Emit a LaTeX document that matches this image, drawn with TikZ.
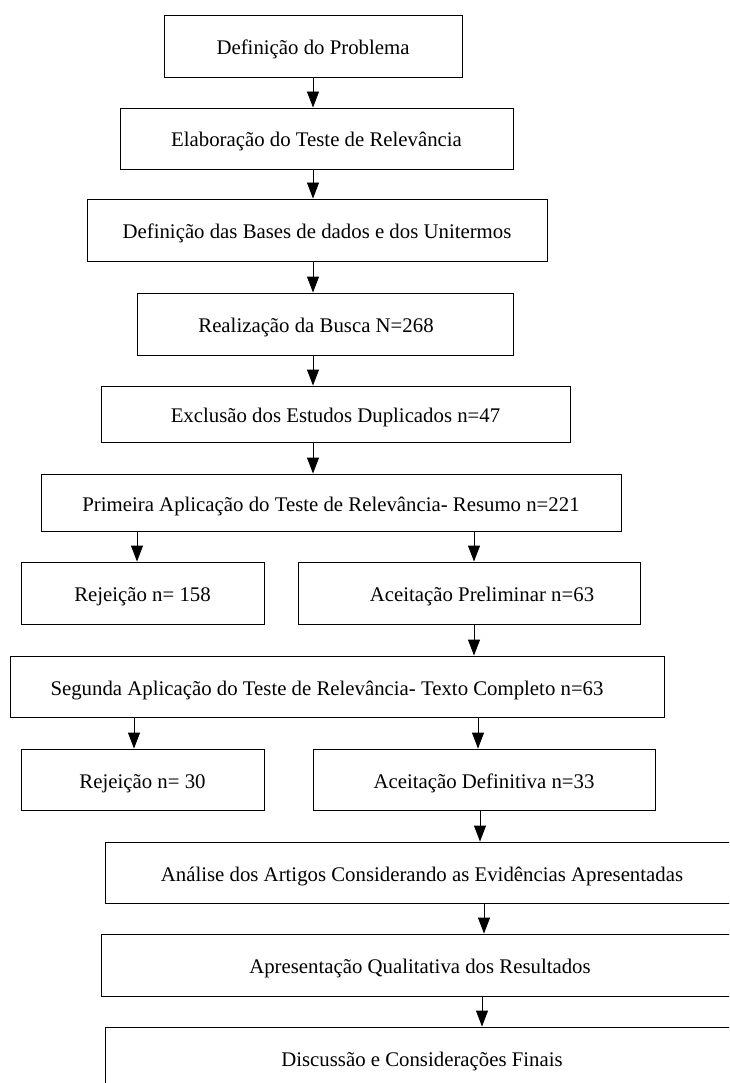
\documentclass[tikz,border=0pt]{standalone}
\usepackage{fontspec}
\setmainfont{Liberation Serif}
\usetikzlibrary{arrows.meta}

\tikzset{
  etapa/.style={draw, line width=0.9pt, minimum height=62pt, inner sep=0pt,
    text height=21pt, text depth=4pt,
    font=\fontsize{20.8}{24}\selectfont},
}

\begin{document}
\begin{tikzpicture}[x=1pt, y=-1pt, >={Triangle[width=12pt,length=16pt]}, line width=0.9pt]
  \useasboundingbox (0,0) rectangle (729,1083);
  \clip (0,0) rectangle (729,1083);

  \node [etapa, minimum width=298pt] (def) at (313,46) {Definição do Problema};
  \node [etapa, minimum width=393pt, minimum height=61pt] (elab) at (316.5,138.5) {Elaboração do Teste de Relevância};
  \node [etapa, minimum width=460pt] (bases) at (317,230) {Definição das Bases de dados e dos Unitermos};
  \node [etapa, minimum width=376pt] (busca) at (325,324) {Realização da Busca N=268\hspace*{18pt}};
  \node [etapa, minimum width=469pt, minimum height=56pt] (excl) at (335.5,414) {Exclusão dos Estudos Duplicados n=47};
  \node [etapa, minimum width=580pt, minimum height=57pt] (prim) at (331,502.5) {Primeira Aplicação do Teste de Relevância- Resumo n=221};
  \node [etapa, minimum width=243pt] (rej1) at (142.5,593) {Rejeição n= 158};
  \node [etapa, minimum width=342pt] (acp) at (469,593) {\hspace*{26pt}Aceitação Preliminar n=63};
  \node [etapa, minimum width=654pt, minimum height=61pt] (seg) at (337,686.5) {Segunda Aplicação do Teste de Relevância- Texto Completo n=63\hspace*{20pt}};
  \node [etapa, minimum width=243pt, minimum height=61pt] (rej2) at (142.5,779.5) {Rejeição n= 30};
  \node [etapa, minimum width=342pt, minimum height=61pt] (acd) at (484,779.5) {Aceitação Definitiva n=33};
  \node [etapa, minimum width=634pt, minimum height=61pt] (anal) at (422,872.5) {Análise dos Artigos Considerando as Evidências Apresentadas};
  \node [etapa, minimum width=638pt] (apres) at (420,965) {Apresentação Qualitativa dos Resultados};
  \node [etapa, minimum width=634pt] (disc) at (422,1058) {Discussão e Considerações Finais};

  \draw [->] (def.south -| 313,0) -- (elab.north -| 313,0);
  \draw [->] (elab.south -| 313,0) -- (bases.north -| 313,0);
  \draw [->] (bases.south -| 313,0) -- (busca.north -| 313,0);
  \draw [->] (busca.south -| 313,0) -- (excl.north -| 313,0);
  \draw [->] (excl.south -| 313,0) -- (prim.north -| 313,0);
  \draw [->] (prim.south -| 137,0) -- (rej1.north -| 137,0);
  \draw [->] (prim.south -| 474,0) -- (acp.north -| 474,0);
  \draw [->] (acp.south -| 474,0) -- (seg.north -| 474,0);
  \draw [->] (seg.south -| 134,0) -- (rej2.north -| 134,0);
  \draw [->] (seg.south -| 478,0) -- (acd.north -| 478,0);
  \draw [->] (acd.south -| 480,0) -- (anal.north -| 480,0);
  \draw [->] (anal.south -| 484,0) -- (apres.north -| 484,0);
  \draw [->] (apres.south -| 482,0) -- (disc.north -| 482,0);
\end{tikzpicture}
\end{document}
